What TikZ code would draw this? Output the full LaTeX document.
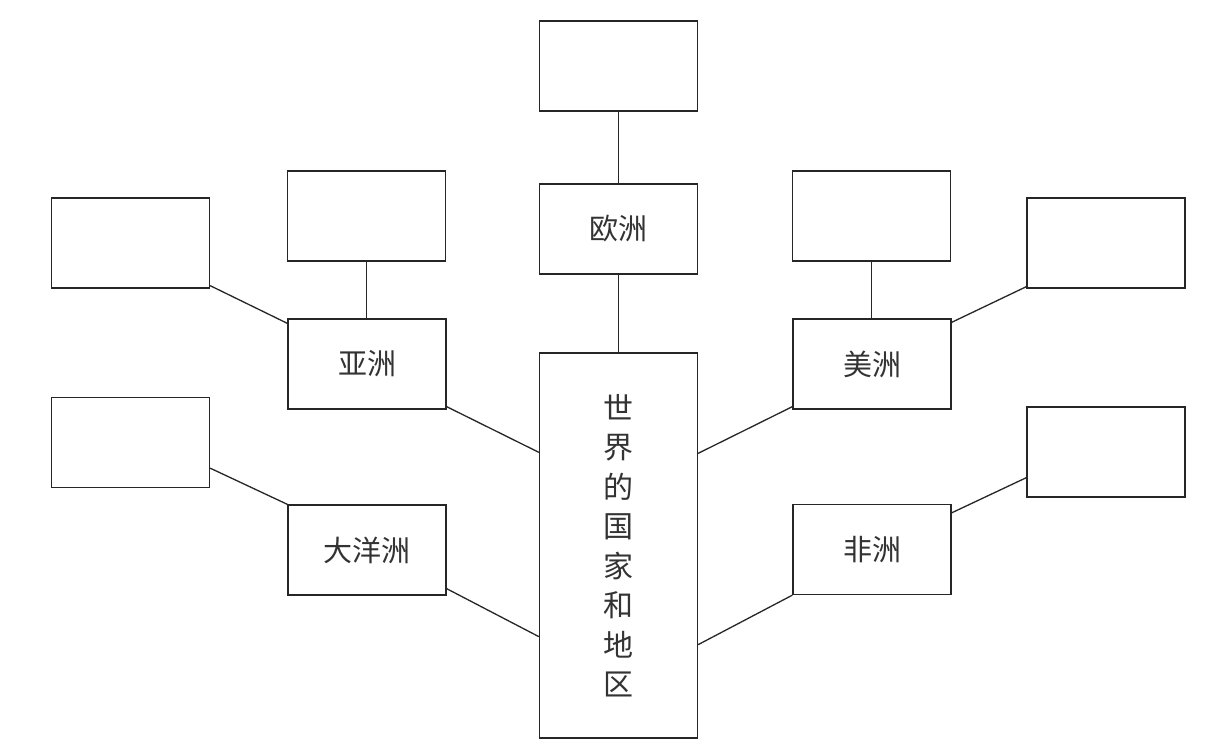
\documentclass[tikz,border=0pt]{standalone}
\usepackage{fontspec}
\newfontfamily\cjk{Noto Sans CJK SC}
\begin{document}
\begin{tikzpicture}[x=1pt,y=-1pt,
  box/.style={draw=black!85,line width=1.3pt,minimum width=158pt,minimum height=90pt,inner sep=0pt,
    font=\cjk\fontsize{29}{35}\selectfont,text=black!80},
  link/.style={draw=black!85,line width=1.3pt}]
\useasboundingbox (0,0) rectangle (1212,751);
\fill[white] (0,0) rectangle (1212,751);
% centre column
\node[box] (top) at (618.5,66) {};
\node[box] (eu) at (618.5,229) {欧洲};
\node[box,minimum height=385pt,align=center,font=\cjk\fontsize{30}{39.5}\selectfont] (ctr) at (618.5,545.5)
  {世\\界\\的\\国\\家\\和\\地\\区};
% left side
\node[box] (asia) at (367,364) {亚洲};
\node[box] (asiaup) at (366.5,216) {};
\node[box] (flt) at (130.5,243) {};
\node[box] (oc) at (367,550) {大洋洲};
\node[box] (flb) at (130.5,442.5) {};
% right side
\node[box] (am) at (872,364) {美洲};
\node[box] (amup) at (871.5,216) {};
\node[box] (frt) at (1106,243) {};
\node[box] (af) at (872,549.5) {非洲};
\node[box] (frb) at (1106,452) {};
% connectors
\draw[link] (top.south) -- (eu.north);
\draw[link] (eu.south) -- (ctr.north);
\draw[link] (asiaup.south) -- (asia.north -| asiaup.south);
\draw[link] (amup.south) -- (am.north -| amup.south);
\draw[link] ([yshift=3pt]flt.south east) -- ([yshift=-5pt]asia.north west);
\draw[link] ([yshift=20pt]flb.south east) -- (oc.north west);
\draw[link] ([yshift=3pt]asia.south east) -- ([yshift=-100pt]ctr.north west);
\draw[link] ([yshift=7pt]oc.south east) -- ([yshift=102pt]ctr.south west);
\draw[link] ([yshift=-101pt]ctr.north east) -- ([yshift=3pt]am.south west);
\draw[link] ([yshift=94pt]ctr.south east) -- (af.south west);
\draw[link] ([yshift=-4pt]am.north east) -- ([yshift=2pt]frt.south west);
\draw[link] ([yshift=-9pt]af.north east) -- ([yshift=20pt]frb.south west);
\end{tikzpicture}
\end{document}
